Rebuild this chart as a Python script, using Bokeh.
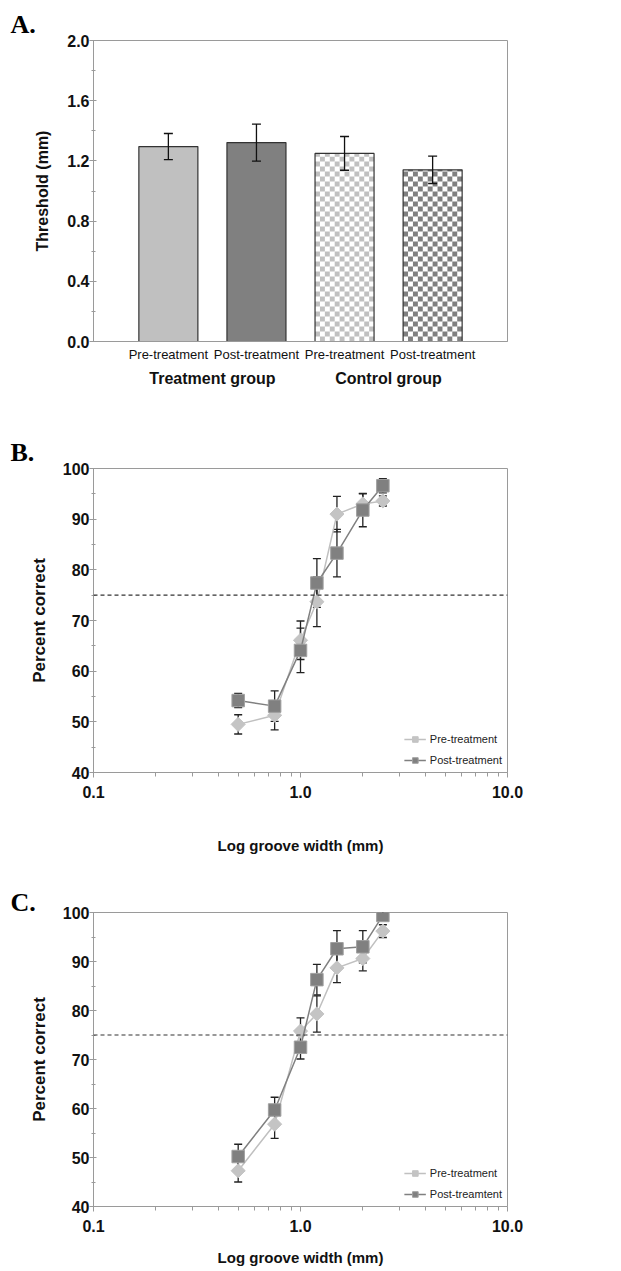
import math
from bokeh.plotting import figure
from bokeh.models import (FactorRange, Whisker, TeeHead, ColumnDataSource, Span,
                          Legend, LegendItem, SingleIntervalTicker, FixedTicker,
                          PrintfTickFormatter)
from bokeh.layouts import column
from bokeh.embed import file_html
from bokeh.resources import INLINE

# ---------------- data ----------------
# Panel A
groups = ["Treatment group", "Treatment group", "Control group", "Control group"]
phases = ["Pre-treatment", "Post-treatment", "Pre-treatment", "Post-treatment"]
threshold = [1.295, 1.322, 1.250, 1.141]
threshold_err = [0.087, 0.123, 0.112, 0.091]
bar_fill = ["#c0c0c0", "#808080", "#ffffff", "#ffffff"]
bar_checker = [False, False, True, True]
bar_checker_color = ["#c0c0c0", "#808080", "#c0c0c0", "#808080"]

# Panels B and C
groove_width = [0.5, 0.75, 1.0, 1.2, 1.5, 2.0, 2.5]
b_pre = [49.5, 51.3, 66.1, 73.7, 91.0, 93.0, 93.6]
b_pre_err = [1.9, 2.9, 3.8, 4.9, 3.5, 2.0, 1.0]
b_post = [54.2, 53.1, 64.1, 77.4, 83.3, 91.8, 96.6]
b_post_err = [1.4, 3.0, 4.4, 4.8, 4.7, 3.3, 1.4]
c_pre = [47.3, 56.8, 75.8, 79.3, 88.7, 90.6, 96.2]
c_pre_err = [2.3, 2.9, 2.7, 3.7, 3.0, 2.5, 1.3]
c_post = [50.2, 59.7, 72.5, 86.3, 92.6, 93.0, 99.4]
c_post_err = [2.5, 2.6, 2.4, 3.1, 3.7, 3.3, 1.0]

x_major = [0.1, 1.0, 10.0]
x_minor = [0.2, 0.3, 0.4, 0.5, 0.6, 0.7, 0.8, 0.9, 2, 3, 4, 5, 6, 7, 8, 9]
criterion = 75

GRAY = "#9a9a9a"
SANS = "Liberation Sans"
SERIF = "Liberation Serif"
W = 621


def style_axes(p):
    p.outline_line_color = GRAY
    p.outline_line_width = 1
    p.xgrid.visible = False
    p.ygrid.visible = False
    for ax in (p.xaxis[0], p.yaxis[0]):
        ax.axis_line_color = GRAY
        ax.major_tick_line_color = GRAY
        ax.minor_tick_line_color = GRAY
        ax.major_label_text_font = SANS
        ax.major_label_text_font_style = "bold"
        ax.major_label_text_font_size = "16px"
        ax.major_label_text_color = "#111111"
        ax.axis_label_text_font = SANS
        ax.axis_label_text_font_style = "bold"
        ax.axis_label_text_color = "#111111"


def panel_letter(p, text, standoff):
    p.title.text = text
    p.title.align = "left"
    p.title.offset = -83
    p.title.standoff = standoff
    p.title.text_font = SERIF
    p.title.text_font_style = "bold"
    p.title.text_font_size = "26px"
    p.title.text_color = "#000000"


# ---------------- Panel A ----------------
factors = list(zip(groups, phases))
bar_width = 0.67
pa = figure(x_range=FactorRange(*factors, range_padding=0.175, factor_padding=0,
                                group_padding=0, subgroup_padding=0),
            y_range=(0, 2.0), width=W, height=420,
            output_backend="svg", toolbar_location=None,
            min_border_left=93, min_border_right=114, min_border_top=40, min_border_bottom=79)
style_axes(pa)

src_a = ColumnDataSource(dict(x=factors, top=threshold, fill=bar_fill,
                              upper=[v + e for v, e in zip(threshold, threshold_err)],
                              lower=[v - e for v, e in zip(threshold, threshold_err)]))
pa.vbar(x="x", top="top", width=bar_width, source=src_a, fill_color="fill", line_color=None)

# checkerboard fill of the control-group bars (5 px cells)
n_cols = 12
cell_w = bar_width / n_cols
cell_h = 0.0332
cx, cy, ch, cc = [], [], [], []
for i, is_checker in enumerate(bar_checker):
    if not is_checker:
        continue
    n_rows = int(math.ceil(threshold[i] / cell_h))
    for r in range(n_rows):
        y0 = r * cell_h
        y1 = min((r + 1) * cell_h, threshold[i])
        for c in range(n_cols):
            if (r + c) % 2 == 1:
                cx.append((groups[i], phases[i], -bar_width / 2 + (c + 0.5) * cell_w))
                cy.append((y0 + y1) / 2)
                ch.append(y1 - y0)
                cc.append(bar_checker_color[i])
pa.rect(x=cx, y=cy, width=cell_w, height=ch, fill_color=cc, line_color=None)

pa.vbar(x="x", top="top", width=bar_width, source=src_a, fill_color=None,
        line_color="#333333", line_width=1.2)
pa.add_layout(Whisker(base="x", upper="upper", lower="lower", source=src_a, level="overlay",
                      line_color="#111111", line_width=1.3,
                      upper_head=TeeHead(size=9, line_color="#111111", line_width=1.3),
                      lower_head=TeeHead(size=9, line_color="#111111", line_width=1.3)))

pa.yaxis.ticker = SingleIntervalTicker(interval=0.4, num_minor_ticks=2)
pa.yaxis.formatter = PrintfTickFormatter(format="%.1f")
pa.yaxis.major_tick_in = 3
pa.yaxis.major_tick_out = 4
pa.yaxis.minor_tick_in = 2
pa.yaxis.minor_tick_out = 2
pa.yaxis.major_label_standoff = 0
pa.yaxis.axis_label = "Threshold (mm)"
pa.yaxis.axis_label_text_font_size = "16px"
pa.yaxis.axis_label_standoff = 13

xa = pa.xaxis[0]
xa.major_tick_line_color = None
xa.minor_tick_line_color = None
xa.major_tick_out = 0
xa.major_tick_in = 0
xa.minor_tick_out = 0
xa.separator_line_color = None
xa.major_label_text_font = SANS
xa.major_label_text_font_style = "normal"
xa.major_label_text_font_size = "13px"
xa.major_label_text_line_height = 0.8
xa.major_label_standoff = 5
xa.group_text_font = SANS
xa.group_text_font_style = "bold"
xa.group_text_font_size = "16px"
xa.group_text_color = "#111111"
panel_letter(pa, "A.", 3)


# ---------------- Panels B and C ----------------
def curve_panel(pre, pre_err, post, post_err, post_label, height, top, bottom,
                letter, letter_standoff, xlabel_standoff):
    p = figure(x_axis_type="log", x_range=(0.1, 10), y_range=(40, 100),
               width=W, height=height, output_backend="svg", toolbar_location=None,
               min_border_left=93, min_border_right=114, min_border_top=top,
               min_border_bottom=bottom)
    style_axes(p)
    p.add_layout(Span(location=criterion, dimension="width", line_color="#333333",
                      line_dash="4 3", line_width=1.2))

    for vals, errs in ((pre, pre_err), (post, post_err)):
        s = ColumnDataSource(dict(x=groove_width,
                                  upper=[v + e for v, e in zip(vals, errs)],
                                  lower=[v - e for v, e in zip(vals, errs)]))
        p.add_layout(Whisker(base="x", upper="upper", lower="lower", source=s,
                             level="underlay", line_color="#222222", line_width=1.3,
                             upper_head=TeeHead(size=8, line_color="#222222", line_width=1.3),
                             lower_head=TeeHead(size=8, line_color="#222222", line_width=1.3)))

    pre_line = p.line(groove_width, pre, line_color="#c0c0c0", line_width=1.5)
    pre_mark = p.scatter(groove_width, pre, marker="square", angle=math.pi / 4, size=10,
                         fill_color="#c4c4c4", line_color="#c4c4c4")
    post_line = p.line(groove_width, post, line_color="#808080", line_width=1.5)
    post_mark = p.scatter(groove_width, post, marker="square", size=12.5,
                          fill_color="#808080", line_color="#a0a0a0", line_width=1)

    legend = Legend(items=[LegendItem(label="Pre-treatment", renderers=[pre_line, pre_mark]),
                           LegendItem(label=post_label, renderers=[post_line, post_mark])],
                    location="bottom_right", border_line_color=None,
                    background_fill_alpha=0, label_text_font=SANS,
                    label_text_font_size="11px", label_text_color="#222222",
                    glyph_width=22, glyph_height=14, label_height=14, spacing=7,
                    padding=4, margin=5, label_standoff=4)
    p.add_layout(legend)

    p.xaxis.ticker = FixedTicker(ticks=x_major, minor_ticks=x_minor)
    p.xaxis.formatter = PrintfTickFormatter(format="%.1f")
    p.xaxis.major_tick_in = 0
    p.xaxis.major_tick_out = 5
    p.xaxis.minor_tick_in = 0
    p.xaxis.minor_tick_out = 4
    p.xaxis.major_label_standoff = 8
    p.xaxis.axis_label = "Log groove width (mm)"
    p.xaxis.axis_label_text_font_size = "15px"
    p.xaxis.axis_label_standoff = xlabel_standoff

    p.yaxis.ticker = SingleIntervalTicker(interval=10, num_minor_ticks=2)
    p.yaxis.major_tick_in = 3
    p.yaxis.major_tick_out = 4
    p.yaxis.minor_tick_in = 2
    p.yaxis.minor_tick_out = 2
    p.yaxis.major_label_standoff = 0
    p.yaxis.axis_label = "Percent correct"
    p.yaxis.axis_label_text_font_size = "17px"
    p.yaxis.axis_label_standoff = 11
    panel_letter(p, letter, letter_standoff)
    return p


pb = curve_panel(b_pre, b_pre_err, b_post, b_post_err, "Post-treatment",
                 440, 48, 88, "B.", 4, 36)
pc = curve_panel(c_pre, c_pre_err, c_post, c_post_err, "Post-treamtent",
                 411, 52, 65, "C.", -9, 14)

layout = column(pa, pb, pc, spacing=0)
open("out.html", "w").write(file_html(layout, INLINE))
